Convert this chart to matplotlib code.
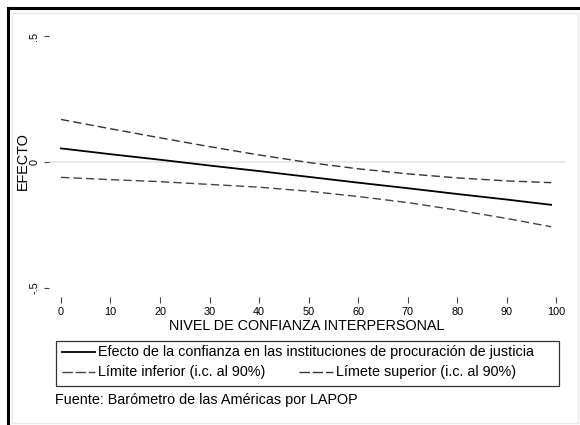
import matplotlib
matplotlib.use("Agg")
import matplotlib.pyplot as plt
from matplotlib.lines import Line2D
from matplotlib.patches import Rectangle

plt.rcParams["font.family"] = ["Liberation Sans", "DejaVu Sans"]

# values
confianza = [0, 10, 20, 30, 40, 50, 60, 70, 80, 90, 99]
efecto = [0.054, 0.031, 0.009, -0.014, -0.036, -0.059, -0.082, -0.104, -0.127, -0.149, -0.170]
lim_inf = [-0.061, -0.070, -0.078, -0.089, -0.100, -0.116, -0.137, -0.161, -0.191, -0.224, -0.257]
lim_sup = [0.169, 0.132, 0.096, 0.061, 0.028, -0.002, -0.027, -0.047, -0.063, -0.075, -0.082]

x_ticks = list(range(0, 101, 10))
y_ticks = [-0.5, 0, 0.5]
y_ticklabels = ["-.5", "0", ".5"]

W, H = 580, 425
fig = plt.figure(figsize=(W / 100, H / 100), dpi=100)


def fx(px):
    return px / W


def fy(py):
    return 1 - py / H


# plot region
ax = fig.add_axes([fx(49), fy(297), (565 - 49) / W, (297 - 27) / H])
ax.set_xlim(-2.42, 101.8)
ax.set_ylim(-0.536, 0.536)
for s in ax.spines.values():
    s.set_visible(False)

ax.axhline(0, color="#e6e6e6", lw=1.2, zorder=1)
ax.plot(confianza, efecto, color="black", lw=1.3, zorder=3)
ax.plot(confianza, lim_inf, color="#444444", lw=1.0, dashes=(6, 3), zorder=2)
ax.plot(confianza, lim_sup, color="#333333", lw=1.0, dashes=(6, 3), zorder=2)

ax.set_xticks(x_ticks)
ax.set_xticklabels([str(t) for t in x_ticks], fontsize=7.8)
ax.set_yticks(y_ticks)
ax.set_yticklabels(y_ticklabels, fontsize=7.8, rotation=90, va="center")
ax.tick_params(axis="x", direction="out", length=4, width=0.8, color="#444444", pad=3)
ax.tick_params(axis="y", direction="out", length=3.5, width=0.8, color="#444444", pad=3.5)

ax.set_xlabel("NIVEL DE CONFIANZA INTERPERSONAL", fontsize=10.4, labelpad=2)
fig.text(fx(23), fy(161), "EFECTO", rotation=90, fontsize=10.4, ha="center", va="center")

# legend box
fig.add_artist(Rectangle((fx(56), fy(386)), (559 - 56) / W, (386 - 341) / H,
                         transform=fig.transFigure, fill=False, ec="#333333", lw=0.9))
fig.add_artist(Line2D([fx(62), fx(95)], [fy(352), fy(352)], color="black", lw=1.3))
fig.text(fx(98), fy(352), "Efecto de la confianza en las instituciones de procuración de justicia",
         fontsize=10.4, va="center")
fig.add_artist(Line2D([fx(62), fx(95)], [fy(372), fy(372)], color="#444444", lw=1.0, dashes=(7.5, 2)))
fig.text(fx(98), fy(372), "Límite inferior (i.c. al 90%)", fontsize=10.4, va="center")
fig.add_artist(Line2D([fx(299), fx(333)], [fy(372), fy(372)], color="#333333", lw=1.0, dashes=(7.5, 2)))
fig.text(fx(336), fy(372), "Límete superior (i.c. al 90%)", fontsize=10.4, va="center")

fig.text(fx(55), fy(400), "Fuente: Barómetro de las Américas por LAPOP", fontsize=10.4, va="center")

# outer frame
fig.add_artist(Rectangle((fx(12), fy(423)), (578 - 12) / W, (423 - 13) / H,
                         transform=fig.transFigure, fill=False, ec="#e8e8e8", lw=1.0))
fig.add_artist(Line2D([fx(8), fx(580)], [fy(8), fy(8)], color="black", lw=2.2))
fig.add_artist(Line2D([fx(8), fx(8)], [fy(8), fy(425)], color="black", lw=2.2))

fig.savefig("out.png", dpi=100)
